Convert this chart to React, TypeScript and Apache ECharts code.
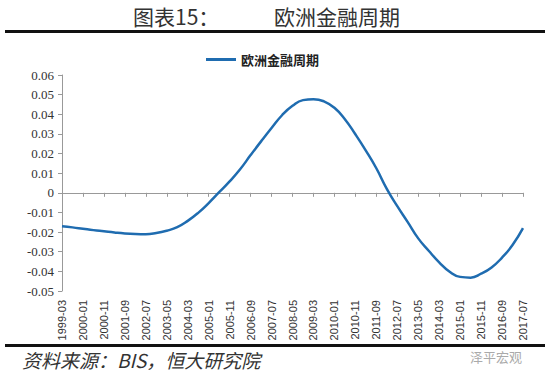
import React, { useEffect, useRef } from "react";
import * as echarts from "echarts";

const START_YEAR = 1999;
const START_MONTH = 3;
const MONTH_COUNT = 221;
const categories: string[] = [];
for (let i = 0; i < MONTH_COUNT; i++) {
  const m = START_MONTH - 1 + i;
  const y = START_YEAR + Math.floor(m / 12);
  const mm = (m % 12) + 1;
  categories.push(`${y}-${mm < 10 ? "0" + mm : mm}`);
}

// readings every 5 months (index into categories)
const sampleIndex = [
  0, 5, 10, 15, 20, 25, 30, 35, 40, 45, 50, 55, 60, 65, 70, 75, 80, 85, 90, 95,
  100, 105, 110, 115, 120, 125, 130, 135, 140, 145, 150, 155, 160, 165, 170,
  175, 180, 185, 190, 195, 200, 205, 210, 215, 220,
];
const cycleValues = [
  -0.017, -0.0176, -0.0183, -0.019, -0.0196, -0.0202, -0.0207, -0.021, -0.0211,
  -0.0205, -0.0193, -0.0175, -0.0143, -0.0102, -0.0052, 0.0003, 0.0058, 0.012,
  0.0192, 0.0262, 0.033, 0.0395, 0.0443, 0.0472, 0.0477, 0.0466, 0.0433,
  0.0375, 0.0298, 0.0215, 0.0125, 0.002, -0.0068, -0.0149, -0.0232, -0.0295,
  -0.0354, -0.0402, -0.0428, -0.0432, -0.0412, -0.038, -0.033, -0.0266, -0.018,
];
const seriesName = "欧洲金融周期";
const titleLeft = "图表15：";
const titleRight = "欧洲金融周期";
const sourceText = "资料来源：BIS，恒大研究院";
const watermark = "泽平宏观";

export default function App() {
  const ref = useRef<HTMLDivElement>(null);
  useEffect(() => {
    if (!ref.current) return;
    const chart = echarts.init(ref.current, null, { renderer: "svg" });
    const data = sampleIndex.map((idx, k) => [categories[idx], cycleValues[k]]);
    chart.setOption({
      animation: false,
      backgroundColor: "#ffffff",
      legend: {
        top: 48,
        left: 201,
        itemWidth: 30,
        itemHeight: 3,
        itemGap: 5,
        icon: "rect",
        data: [seriesName],
        textStyle: {
          fontFamily: "Noto Sans CJK SC",
          fontWeight: "bold",
          fontSize: 13,
          color: "#222",
        },
      },
      grid: { left: 62, right: 27, top: 75, bottom: 89 },
      xAxis: [
        {
          type: "category",
          data: categories,
          boundaryGap: false,
          position: "bottom",
          axisLine: { show: false, onZero: false },
          axisTick: { show: false },
          axisLabel: {
            interval: 9,
            rotate: 90,
            margin: 9,
            fontSize: 11,
            fontFamily: "Liberation Sans",
            color: "#333",
          },
        },
        {
          type: "category",
          data: categories,
          boundaryGap: false,
          position: "bottom",
          axisLine: { show: true, onZero: true, lineStyle: { color: "#999", width: 1 } },
          axisTick: { show: true, interval: 9, length: 4, lineStyle: { color: "#999" } },
          axisLabel: { show: false },
        },
      ],
      yAxis: {
        type: "value",
        min: -0.05,
        max: 0.06,
        interval: 0.01,
        splitLine: { show: false },
        axisLine: { show: true, lineStyle: { color: "#999", width: 1 } },
        axisTick: { show: true, length: 4, lineStyle: { color: "#999" } },
        axisLabel: {
          margin: 8,
          fontSize: 13,
          fontFamily: "Liberation Serif",
          color: "#333",
          formatter: (v: number) => (Math.abs(v) < 1e-9 ? "0" : v.toFixed(2)),
        },
      },
      series: [
        {
          name: seriesName,
          type: "line",
          xAxisIndex: 0,
          data,
          smooth: true,
          showSymbol: false,
          symbol: "none",
          lineStyle: { color: "#1f6cb0", width: 2.5 },
          itemStyle: { color: "#1f6cb0" },
        },
      ],
      graphic: [
        {
          type: "text",
          left: 133,
          top: 5,
          style: {
            text: titleLeft,
            fontSize: 21,
            fontFamily: "Noto Sans CJK SC",
            fill: "#333",
          },
        },
        {
          type: "text",
          left: 274,
          top: 5,
          style: {
            text: titleRight,
            fontSize: 21,
            fontFamily: "Noto Sans CJK SC",
            fill: "#333",
          },
        },
        {
          type: "rect",
          shape: { x: 5, y: 30, width: 540, height: 3 },
          style: { fill: "#111" },
        },
        {
          type: "rect",
          shape: { x: 5, y: 344, width: 540, height: 3 },
          style: { fill: "#111" },
        },
        {
          type: "text",
          left: 22,
          top: 350,
          style: {
            text: sourceText,
            fontSize: 19,
            fontStyle: "italic",
            fontFamily: "Noto Sans CJK SC",
            fill: "#333",
          },
        },
        {
          type: "text",
          left: 470,
          top: 350,
          style: {
            text: watermark,
            fontSize: 13,
            fontFamily: "Noto Sans CJK SC",
            fill: "#aaa",
          },
        },
      ],
    });
    return () => chart.dispose();
  }, []);
  return (
    <div
      ref={ref}
      style={{ position: "absolute", left: 0, top: 0, width: 550, height: 380 }}
    />
  );
}
